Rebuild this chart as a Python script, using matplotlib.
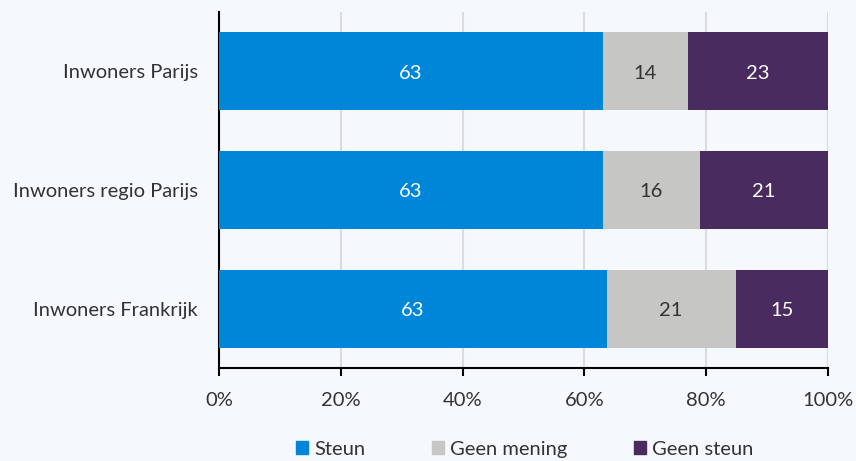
import matplotlib.pyplot as plt
import matplotlib.patches as mpatches
import numpy as np

plt.rcParams['font.family'] = ['Lato', 'DejaVu Sans']

categories = ["Inwoners Frankrijk", "Inwoners regio Parijs", "Inwoners Parijs"]
steun = [63, 63, 63]
geen_mening = [21, 16, 14]
geen_steun = [15, 21, 23]
series_names = ["Steun", "Geen mening", "Geen steun"]
colors = ["#0086D9", "#C6C6C4", "#4A2B5F"]
label_colors = ["white", "#333333", "white"]
tick_labels = ["0%", "20%", "40%", "60%", "80%", "100%"]

bg = "#F5F8FC"
fs = 14.5
fig = plt.figure(figsize=(8.56, 4.61), dpi=100, facecolor=bg)
ax = fig.add_axes([219/856, 1-368/461, (828-219)/856, (368-12)/461])
ax.set_facecolor(bg)

# rows are scaled to 100%, labels show the values as printed
data = np.array([steun, geen_mening, geen_steun], dtype=float)
totals = data.sum(axis=0)
shares = data / totals * 100
y = np.arange(len(categories))
left = np.zeros(len(categories))
for i in range(len(series_names)):
    ax.barh(y, shares[i], left=left, height=0.66, color=colors[i], zorder=3)
    for j in range(len(categories)):
        ax.text(left[j] + shares[i][j]/2, y[j] - 0.015, "%d" % data[i][j], ha="center", va="center",
                color=label_colors[i], fontsize=fs, zorder=4)
    left += shares[i]

ax.set_xlim(0, 100)
ax.set_ylim(-0.5, 2.5)
ax.set_xticks([0, 20, 40, 60, 80, 100])
ax.set_xticklabels(tick_labels)
ax.set_yticks(y)
ax.set_yticklabels(categories)
ax.tick_params(axis="y", length=0, pad=15, labelsize=fs, labelcolor="#333333")
ax.tick_params(axis="x", length=6, width=1.5, color="black", pad=11, labelsize=fs, labelcolor="#333333")
ax.grid(axis="x", color="#DCDCDC", linewidth=1.5, zorder=0)
ax.spines["top"].set_visible(False)
ax.spines["right"].set_visible(False)
ax.spines["left"].set_linewidth(1.5)
ax.spines["bottom"].set_linewidth(1.5)

patches = [mpatches.Patch(color=colors[i], label=series_names[i]) for i in range(3)]
leg = fig.legend(handles=patches, loc="center", bbox_to_anchor=(525/856, 1-449/461), ncol=3,
                 frameon=False, handlelength=0.6, handleheight=0.6, handletextpad=0.3,
                 columnspacing=3.3, prop={"size": fs})
for t in leg.get_texts():
    t.set_color("#333333")

fig.savefig("out.png", dpi=100, facecolor=bg)
